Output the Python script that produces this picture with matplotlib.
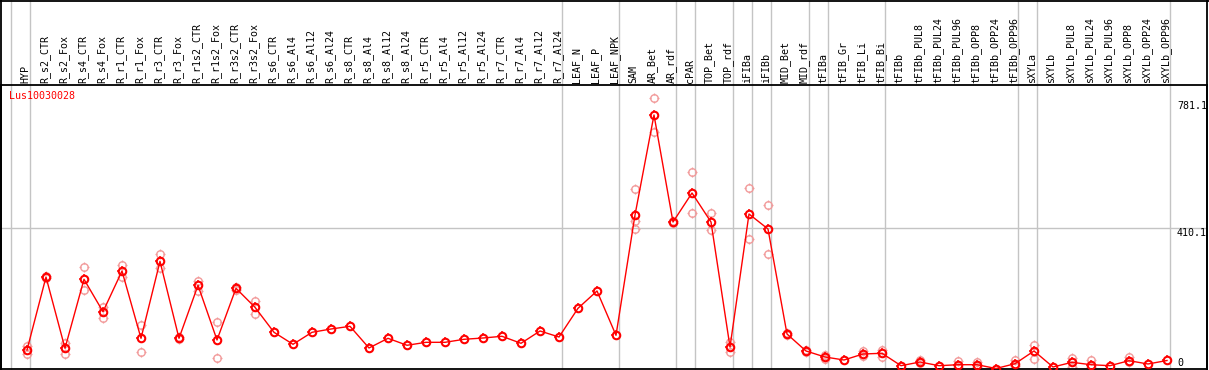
import numpy as np
import matplotlib
matplotlib.use("Agg")
import matplotlib.pyplot as plt
from matplotlib.path import Path
from matplotlib.lines import Line2D

# ---------------- data ----------------
categories = ["HYP", "R_s2_CTR", "R_s2_Fox", "R_s4_CTR", "R_s4_Fox", "R_r1_CTR", "R_r1_Fox",
              "R_r3_CTR", "R_r3_Fox", "R_r1s2_CTR", "R_r1s2_Fox", "R_r3s2_CTR", "R_r3s2_Fox",
              "R_s6_CTR", "R_s6_Al4", "R_s6_Al12", "R_s6_Al24", "R_s8_CTR", "R_s8_Al4",
              "R_s8_Al12", "R_s8_Al24", "R_r5_CTR", "R_r5_Al4", "R_r5_Al12", "R_r5_Al24",
              "R_r7_CTR", "R_r7_Al4", "R_r7_Al12", "R_r7_Al24", "LEAF_N", "LEAF_P", "LEAF_NPK",
              "SAM", "AR_Bet", "AR_rdf", "cPAR", "TOP_Bet", "TOP_rdf", "iFIBa", "iFIBb",
              "MID_Bet", "MID_rdf", "tFIBa", "tFIB_Gr", "tFIB_Li", "tFIB_Bi", "tFIBb",
              "tFIBb_PUL8", "tFIBb_PUL24", "tFIBb_PUL96", "tFIBb_OPP8", "tFIBb_OPP24",
              "tFIBb_OPP96", "sXYLa", "sXYLb", "sXYLb_PUL8", "sXYLb_PUL24", "sXYLb_PUL96",
              "sXYLb_OPP8", "sXYLb_OPP24", "sXYLb_OPP96"]

mean_values = [54.1, 267.6, 59.1, 260.9, 166.1, 285.2, 88.3, 313.5, 88.3, 243.3, 83.4, 234.6,
               179.0, 105.9, 70.8, 105.9, 115.5, 123.4, 60.0, 88.3, 67.9, 76.6, 76.6, 85.4,
               89.2, 94.2, 73.7, 109.7, 92.1, 176.1, 226.7, 97.1, 449.0, 741.5, 428.5, 513.3,
               428.5, 62.9, 451.9, 408.0, 100.9, 51.2, 33.6, 24.9, 42.4, 44.5, 8.2, 19.0, 8.2,
               11.1, 11.1, 0.0, 14.0, 51.2, 4.4, 18.1, 11.1, 8.2, 22.8, 13.2, 23.4]

nan = np.nan
rep1_values = [65.8, 270.5, 75.5, 296.0, 180.8, 302.7, 127.2, 334.0, 91.3, 256.8, 135.1, 237.5,
               197.4, nan, nan, nan, nan, nan, nan, nan, nan, nan, nan, nan, nan, nan, nan, nan,
               nan, nan, nan, nan, 525.0, 790.3, 431.4, 573.9, 453.9, 76.6, 527.9, 478.2, 103.8,
               54.1, 39.5, nan, 52.1, 54.1, nan, 24.9, nan, 21.9, 18.1, nan, 24.0, 68.7, nan,
               31.6, 24.0, nan, 32.8, nan, nan]
rep2_values = [41.5, 264.7, 43.3, 228.7, 148.6, 266.7, 49.1, 293.1, 85.4, 226.7, 30.7, 229.6,
               160.3, nan, nan, nan, nan, nan, nan, nan, nan, nan, nan, nan, nan, nan, nan, nan,
               nan, nan, nan, nan, 431.4, 692.6, 425.6, 454.8, 404.2, 48.3, 377.9, 334.0, 98.0,
               48.3, 27.8, nan, 36.6, 34.5, nan, 15.2, nan, 5.3, 5.3, nan, 7.3, 26.9, nan,
               4.4, 5.3, nan, 18.1, nan, nan]
rep3_values = [nan] * 32 + [408.0] + [nan] * 28

gene_name = "Lus10030028"
y_tick_values = [781.1, 410.1, 0]
y_tick_labels = ["781.1", "410.1", "0"]
group_breaks = [-1, 0, 28, 31, 34, 35, 37, 38, 39, 41, 42, 45, 52, 53, 60]

# ---------------- layout (pixels) ----------------
W, H = 1209, 370
DPI = 100
ax_left, ax_right, ax_top, ax_bottom = 1, 1207, 85, 369
col0, col_step = 27, 19
px_per_unit = 0.3419
zero_px = 368.5

fig = plt.figure(figsize=(W / DPI, H / DPI), dpi=DPI)
fig.patch.set_facecolor("white")
ax = fig.add_axes([ax_left / W, (H - ax_bottom) / H, (ax_right - ax_left) / W, (ax_bottom - ax_top) / H])

x = np.arange(len(categories))
ax.set_xlim((ax_left - col0) / col_step, (ax_right - col0) / col_step)
ax.set_ylim((zero_px - ax_bottom) / px_per_unit, (zero_px - ax_top) / px_per_unit)
ax.set_xticks([])
ax.set_yticks([])
for s in ax.spines.values():
    s.set_color("black")
    s.set_linewidth(1.3)

mono = "DejaVu Sans Mono"
fs = 7.2

# gridlines
grid_col = "#c4c4c4"
ax_h_px = ax_bottom - ax_top
for g in group_breaks:
    ax.axvline(g + 0.17, ymin=0, ymax=ax_bottom / ax_h_px, color=grid_col, lw=1.0,
               clip_on=False, zorder=0.5)
ax.axhline(410.1, color=grid_col, lw=1.0, zorder=0.5)

# tick marker path (four short ticks outside circle)
tick_path = Path([(0, 0.7), (0, 1.0), (0, -0.7), (0, -1.0), (0.7, 0), (1.0, 0), (-0.7, 0), (-1.0, 0)],
                 [Path.MOVETO, Path.LINETO] * 4)

light = "#f29a9a"
for reps in (rep1_values, rep2_values, rep3_values):
    r = np.array(reps, dtype=float)
    ax.plot(x, r, linestyle="none", marker="o", ms=5.4, mfc="none", mec=light, mew=1.0,
            zorder=2, clip_on=False)
    ax.plot(x, r, linestyle="none", marker=tick_path, ms=7.0, mfc="none", mec=light, mew=0.9,
            zorder=2, clip_on=False)

ax.plot(x, mean_values, color="red", lw=1.0, zorder=3, clip_on=False)
ax.plot(x, mean_values, linestyle="none", marker="o", ms=5.4, mfc="none", mec="red", mew=1.5,
        zorder=4, clip_on=False)
ax.plot(x, mean_values, linestyle="none", marker=tick_path, ms=7.2, mfc="none", mec="red",
        mew=1.1, zorder=4, clip_on=False)

# y labels (inside, right)
lab_x = (1177 - col0) / col_step
for v, t in zip(y_tick_values, y_tick_labels):
    ax.text(lab_x, v, t, fontsize=fs, family=mono, ha="left",
            va="top" if v > 0 else "bottom", color="black", zorder=5)

# gene name
fig.text(9 / W, 1 - 91 / H, gene_name, color="red", fontsize=fs, family=mono,
         ha="left", va="top")

# header labels
for i, c in enumerate(categories):
    xp = col0 + col_step * i - 1.5
    fig.text(xp / W, 1 - 83 / H, c, rotation=90, fontsize=fs, family=mono,
             ha="center", va="bottom", color="black")

# figure border lines (top, left, right)
fig.add_artist(Line2D([0, 1], [1 - 0.5 / H, 1 - 0.5 / H], color="black", lw=1.3,
                      transform=fig.transFigure))
fig.add_artist(Line2D([ax_left / W, ax_left / W], [0, 1], color="black", lw=1.3,
                      transform=fig.transFigure))
fig.add_artist(Line2D([ax_right / W, ax_right / W], [0, 1], color="black", lw=1.3,
                      transform=fig.transFigure))

fig.savefig("out.png", dpi=DPI, facecolor="white")
